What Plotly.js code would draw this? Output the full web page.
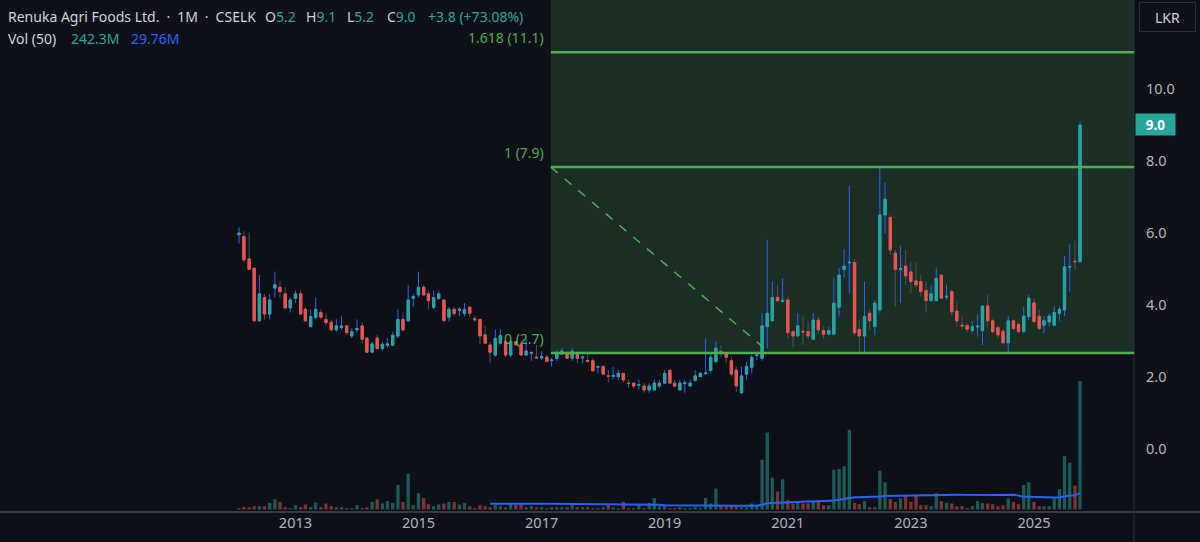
<!DOCTYPE html>
<html><head><meta charset="utf-8">
<script src="https://cdn.plot.ly/plotly-3.0.1.min.js"></script>
<style>html,body{margin:0;padding:0;background:#0e1017;}#chart{width:1200px;height:542px;}</style>
</head><body><div id="chart"></div>
<script>
// Monthly bars, first bar = Feb 2012
const firstMonth = [2012, 2];
const openP = [5.95,5.90,5.28,5.02,3.56,4.21,3.75,4.47,4.49,4.31,3.92,4.19,4.31,3.88,3.40,3.66,3.79,3.60,3.52,3.31,
3.38,3.42,3.14,3.31,3.42,3.08,2.69,3.08,2.79,2.88,2.88,3.14,3.60,3.56,4.19,4.28,4.49,4.31,3.94,4.19,
4.14,3.66,3.88,3.85,3.77,3.94,3.62,3.60,3.17,2.89,2.61,2.94,2.98,2.61,2.98,2.90,2.61,2.66,2.55,2.53,
2.55,2.46,2.52,2.64,2.64,2.52,2.64,2.53,2.46,2.45,2.27,2.29,2.03,2.02,2.01,2.10,1.83,1.83,1.77,1.75,
1.64,1.64,1.75,1.83,2.19,1.83,1.64,1.82,1.75,1.90,2.01,2.09,2.18,2.43,2.71,2.64,2.45,2.19,1.56,2.08,
2.27,2.60,2.52,3.40,3.56,4.21,4.10,4.14,3.26,3.14,3.27,3.26,3.05,3.58,3.29,3.19,3.19,3.94,4.99,5.17,
5.18,3.32,3.14,3.77,3.40,3.86,6.50,6.43,5.44,4.99,5.08,4.92,4.67,4.65,4.40,4.12,4.12,4.83,4.22,4.37,
3.83,3.44,3.43,3.29,3.39,3.29,3.97,3.56,3.37,3.27,2.95,3.56,3.46,3.26,3.68,4.06,3.69,3.44,3.53,3.44,
3.77,3.86,5.05,5.22,5.20];
const highP = [6.16,6.05,6.01,5.03,4.83,4.31,4.31,4.93,4.67,4.49,4.21,4.40,4.40,3.94,3.88,4.21,3.88,3.77,3.60,3.60,
3.69,3.45,3.35,3.60,3.52,3.11,2.98,3.17,2.98,3.08,3.26,3.88,3.79,4.56,4.31,4.93,4.56,4.40,4.40,4.40,
4.14,3.94,3.94,3.94,4.05,3.96,3.69,3.62,3.42,2.98,3.32,3.32,2.98,2.98,3.00,2.92,3.07,2.72,2.89,2.72,
2.61,2.53,2.75,2.80,2.72,2.80,2.72,2.61,2.72,2.52,2.30,2.33,2.19,2.28,2.19,2.10,1.93,1.83,1.92,1.83,
1.83,1.92,1.92,2.19,2.19,1.92,1.92,1.92,1.92,2.19,2.15,3.07,2.64,2.98,2.89,2.70,2.55,2.29,2.29,2.43,
2.61,2.66,3.77,5.81,4.65,4.56,4.74,4.23,3.29,3.77,3.68,3.54,3.77,3.67,3.40,3.40,4.74,5.02,5.55,7.31,
5.27,3.58,4.65,3.88,4.14,7.80,7.40,6.50,5.53,5.64,5.53,5.20,5.17,4.83,4.65,4.56,5.02,4.85,4.56,4.45,
4.11,3.67,3.50,3.56,3.75,3.97,4.28,3.61,3.45,3.33,3.69,3.60,3.52,3.95,4.28,4.19,3.88,3.69,3.77,3.97,
3.97,5.36,5.69,5.78,9.10];
const lowP = [5.71,5.18,4.97,3.54,3.54,3.60,3.60,4.21,4.21,3.88,3.79,4.05,3.75,3.54,3.38,3.60,3.60,3.42,3.26,3.26,
3.31,3.17,3.08,3.23,2.92,2.68,2.68,2.75,2.73,2.81,2.86,3.08,3.26,3.54,3.94,4.21,4.26,3.88,3.88,4.14,
3.54,3.54,3.69,3.69,3.69,3.66,3.54,2.91,2.92,2.38,2.56,2.90,2.55,2.55,2.88,2.60,2.60,2.45,2.52,2.47,
2.42,2.29,2.45,2.61,2.52,2.45,2.38,2.38,2.38,2.17,2.10,2.08,1.84,1.94,1.92,1.84,1.69,1.69,1.66,1.56,
1.56,1.64,1.69,1.82,1.82,1.71,1.64,1.56,1.74,1.89,2.00,2.08,2.10,2.38,2.55,2.38,2.01,1.59,1.55,1.93,
2.10,2.47,2.45,2.80,3.56,4.09,4.06,3.07,2.82,3.14,2.89,3.07,3.05,3.21,3.07,3.16,3.16,3.68,4.77,4.32,
3.16,2.66,2.66,3.32,3.16,3.78,5.99,5.39,3.95,4.05,4.56,4.32,4.49,4.23,3.79,4.10,4.12,4.17,4.14,3.70,
3.40,3.31,3.25,3.21,3.12,2.89,3.38,3.21,3.08,2.90,2.66,3.30,3.20,3.21,3.58,3.50,3.30,3.21,3.40,3.40,
3.56,3.69,4.37,4.97,5.20];
const closeP = [6.00,5.25,4.99,3.56,4.31,3.75,4.14,4.56,4.37,3.92,4.14,4.31,3.75,3.56,3.68,3.88,3.66,3.51,3.31,3.42,
3.42,3.23,3.26,3.35,3.05,2.69,2.92,2.79,2.91,2.92,3.16,3.60,3.31,4.14,4.23,4.49,4.28,4.12,4.21,4.31,
3.56,3.88,3.77,3.88,3.88,3.77,3.59,3.14,2.94,2.69,3.07,3.15,2.61,2.98,2.89,2.61,2.72,2.68,2.53,2.56,
2.43,2.47,2.68,2.72,2.52,2.72,2.52,2.55,2.44,2.17,2.29,2.08,2.02,2.04,2.10,1.92,1.82,1.75,1.79,1.64,
1.75,1.83,1.83,2.10,1.83,1.75,1.83,1.84,1.83,2.03,2.10,2.11,2.55,2.80,2.69,2.55,2.08,1.75,2.03,2.29,
2.55,2.62,3.42,3.77,4.21,4.12,4.13,3.23,3.14,3.42,3.25,3.14,3.58,3.31,3.19,3.29,4.05,4.83,5.08,5.19,
3.23,3.14,3.68,3.56,4.05,6.50,6.94,5.53,4.99,5.01,4.81,4.65,4.56,4.37,4.12,4.31,4.74,4.19,4.24,3.81,
3.56,3.42,3.33,3.40,3.41,3.97,3.56,3.26,3.17,2.95,3.56,3.35,3.26,3.69,4.19,3.54,3.35,3.56,3.69,3.79,
3.88,5.06,5.07,5.20,9.00];
// volume in millions
const volumeM = [2.5,4.4,4.4,6.3,6.3,6.3,12.5,19.4,14.4,4.4,2.5,8.1,4.4,9.4,4.4,13.1,4.4,11.3,6.3,4.4,
4.4,2.5,2.5,8.1,2.5,4.4,14.4,19.4,11.3,15.7,12.5,46.3,14.4,67.6,8.1,30.7,21.9,10.0,6.3,9.4,
11.3,14.4,14.4,9.4,12.5,6.3,2.5,8.1,6.3,4.4,8.1,6.3,4.4,11.3,11.3,11.3,4.4,6.3,4.4,4.4,
2.5,4.4,4.4,4.4,4.4,11.3,4.4,4.4,4.4,2.5,2.5,4.4,11.3,4.4,2.5,14.4,2.5,2.5,9.4,2.5,
12.5,21.3,6.3,6.3,2.5,2.5,4.4,2.5,2.5,4.4,2.5,21.9,11.3,39.4,6.3,6.3,6.3,6.3,4.4,4.4,
11.3,6.3,93.9,145.2,60.1,33.8,57.0,17.5,11.3,14.4,11.3,11.3,14.4,17.5,8.1,8.1,75.1,76.4,81.4,150.2,
12.5,10.0,15.7,4.4,4.4,73.2,51.3,19.4,14.4,20.7,26.3,14.4,26.3,8.1,8.1,6.3,30.7,15.7,12.5,11.3,
6.3,6.3,2.5,6.3,15.7,12.5,11.3,10.0,6.3,8.1,20.7,14.4,10.0,46.3,51.3,14.4,6.3,6.3,6.3,22.5,
38.2,100.8,88.3,45.1,242.3];
const volMaLength = 50;
// Fibonacci extension: anchor prices and level ratios
const fibZeroPrice = 2.67, fibOnePrice = 7.83;
const fibRatios = [0, 1, 1.618];
const fibLabels = ['0 (2.7)', '1 (7.9)', '1.618 (11.1)'];
const fibStartBar = 60.8;   // bar index where the fib tool starts
const fibTrendEndBar = 103.5;
const yTickVals = [0, 2, 4, 6, 8, 10];
const xTickYears = [2013, 2015, 2017, 2019, 2021, 2023, 2025];
const lastPriceLabel = '9.0';
const currencyLabel = 'LKR';

const up = '#26a69a', down = '#ef5350', wickUp = '#2962ff', wickDown = '#4e525c';
const bg = '#0e1017', fibGreen = '#4caf50';
const MS_MONTH = 30.4375 * 864e5;
const t0 = Date.UTC(firstMonth[0], firstMonth[1] - 1, 1);
function barDate(f) { return new Date(t0 + f * MS_MONTH).toISOString().slice(0, 19).replace('T', ' '); }
const dates = openP.map((_, i) => new Date(Date.UTC(firstMonth[0], firstMonth[1] - 1 + i, 1)).toISOString().slice(0, 10));
const fibLevels = fibRatios.map(r => fibZeroPrice + r * (fibOnePrice - fibZeroPrice));

const bodyHi = openP.map((o, i) => Math.max(o, closeP[i]));
const bodyLo = openP.map((o, i) => Math.min(o, closeP[i]));
const volColors = openP.map((o, i) => closeP[i] >= o ? 'rgba(38,166,154,0.5)' : 'rgba(239,83,80,0.5)');
const volMa = volumeM.map((v, i) => {
  if (i < volMaLength - 1) return null;
  let s = 0; for (let k = i - volMaLength + 1; k <= i; k++) s += volumeM[k];
  return s / volMaLength;
});

const traces = [
  { type: 'bar', x: dates, y: volumeM, yaxis: 'y2', marker: { color: volColors, line: { width: 0 } }, hoverinfo: 'skip' },
  { type: 'scatter', mode: 'lines', x: dates, y: volMa, yaxis: 'y2', line: { color: '#2962ff', width: 2 }, hoverinfo: 'skip' },
  { type: 'candlestick', x: dates, open: openP, high: highP, low: lowP, close: closeP,
    increasing: { line: { color: wickUp, width: 1 }, fillcolor: wickUp },
    decreasing: { line: { color: wickDown, width: 1 }, fillcolor: wickDown }, hoverinfo: 'skip' },
  { type: 'candlestick', x: dates, open: openP, high: bodyHi, low: bodyLo, close: closeP,
    increasing: { line: { color: up, width: 1 }, fillcolor: up },
    decreasing: { line: { color: down, width: 1 }, fillcolor: down }, hoverinfo: 'skip' }
];

const xStart = barDate(fibStartBar);
const shapes = [
  { type: 'rect', xref: 'x', yref: 'y', x0: xStart, x1: barDate(400), y0: fibLevels[0], y1: 30,
    fillcolor: '#1b2e23', line: { width: 0 }, layer: 'below' },
  { type: 'line', xref: 'x', yref: 'y', x0: xStart, x1: barDate(fibTrendEndBar), y0: fibLevels[1], y1: fibLevels[0],
    line: { color: fibGreen, width: 1.5, dash: 'dash' } },
  { type: 'line', xref: 'paper', yref: 'paper', x0: 0, x1: 1.1, y0: 0, y1: 0, line: { color: '#363a45', width: 2 } },
  { type: 'line', xref: 'paper', yref: 'paper', x0: 1, x1: 1, y0: -0.1, y1: 1, line: { color: '#2a2e39', width: 1 } }
];
fibLevels.forEach(l => shapes.push({ type: 'line', xref: 'x', yref: 'y', x0: xStart, x1: barDate(400), y0: l, y1: l,
  line: { color: fibGreen, width: 2.5 } }));

const PLOT_W = 1134;
const hdrFont = { family: 'Noto Sans, sans-serif', size: 14, color: '#d1d4dc' };
const tv = s => '<span style="color:' + up + '">' + s + '</span>';
const es = '\u2002';
// header pieces: [text, left px, line]
const headerParts = [
  ['Renuka Agri Foods Ltd.' + es + '·' + es + '1M' + es + '·' + es + 'CSELK', 7, 0],
  ['O' + tv('5.2'), 264, 0], ['H' + tv('9.1'), 305, 0], ['L' + tv('5.2'), 346, 0], ['C' + tv('9.0'), 386, 0],
  [tv('+3.8 (+73.08%)'), 427, 0],
  ['Vol (50)', 7, 1], [tv('242.3M'), 70, 1], ['<span style="color:#2962ff">29.76M</span>', 130, 1]
];
const annotations = headerParts.map(p => ({ xref: 'paper', yref: 'paper', x: p[1] / PLOT_W, y: 1, xanchor: 'left', yanchor: 'middle',
  yshift: p[2] ? -38 : -16, xshift: -1, showarrow: false, font: hdrFont, text: p[0] }));
annotations.push(
  { xref: 'paper', yref: 'y', x: 1, y: 9.0, xanchor: 'left', yanchor: 'middle', xshift: 1, showarrow: false,
    text: '<b>' + lastPriceLabel + '</b>', font: { family: 'Noto Sans, sans-serif', size: 13.5, color: '#ffffff' },
    bgcolor: up, width: 37, height: 19, borderpad: 1 },
  { xref: 'paper', yref: 'paper', x: 1, y: 1, xanchor: 'left', yanchor: 'top', xshift: 5, yshift: -2, showarrow: false,
    text: currencyLabel, font: { family: 'Noto Sans, sans-serif', size: 14, color: '#d1d4dc' },
    bgcolor: bg, bordercolor: '#2a2e39', borderwidth: 1, width: 53, height: 26 });
fibLevels.forEach((l, i) => annotations.push({ xref: 'x', yref: 'y', x: xStart, y: l, xanchor: 'right', yanchor: 'bottom',
  xshift: -5, yshift: 3, showarrow: false, text: fibLabels[i], font: { family: 'Noto Sans, sans-serif', size: 14, color: fibGreen } }));

const layout = {
  width: 1200, height: 542, margin: { l: 0, r: 66, t: 0, b: 30 },
  paper_bgcolor: bg, plot_bgcolor: bg, showlegend: false, hovermode: false, bargap: 0.3,
  xaxis: { type: 'date', range: [barDate(-46.6), barDate(174.5)], rangeslider: { visible: false },
    showgrid: false, zeroline: false, showline: false, ticks: '',
    tickvals: xTickYears.map(y => y + '-01-01'), ticktext: xTickYears.map(String),
    tickfont: { family: 'Noto Sans, sans-serif', size: 14.5, color: '#b2b5be' } },
  yaxis: { side: 'right', range: [-1.75, 12.472], tickvals: yTickVals, tickformat: '.1f', showgrid: false, zeroline: false,
    showline: false, ticks: '', ticklabelstandoff: 11,
    tickfont: { family: 'Noto Sans, sans-serif', size: 14.5, color: '#b2b5be' } },
  yaxis2: { overlaying: 'y', range: [-4.7, 961], visible: false, showgrid: false, zeroline: false },
  shapes: shapes, annotations: annotations
};
Plotly.newPlot('chart', traces, layout, { staticPlot: true, displayModeBar: false });
</script></body></html>
